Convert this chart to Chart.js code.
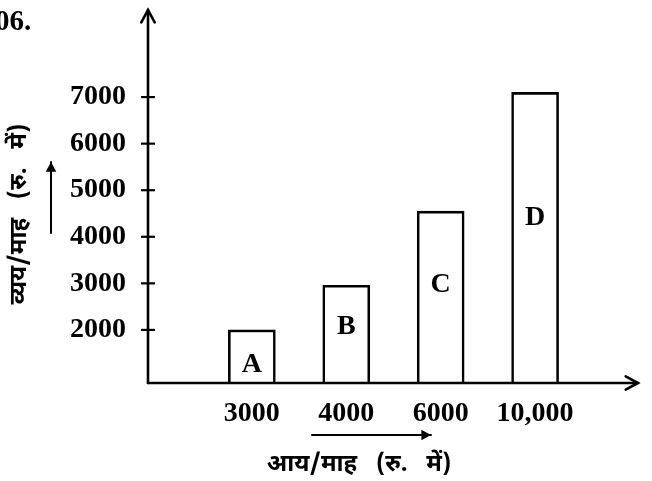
<!DOCTYPE html>
<html>
<head>
<meta charset="utf-8">
<script src="https://cdn.jsdelivr.net/npm/chart.js@4"></script>
<style>
  body { margin: 0; background: #fff; }
  #wrap { position: relative; width: 652px; height: 481px; overflow: hidden; }
  #qno { position: absolute; left: -5px; top: 4px; font: bold 29px "Liberation Serif", serif; color: #000; }
</style>
</head>
<body>
<div id="wrap">
  <canvas id="chart" width="652" height="481"></canvas>
  <div id="qno">06.</div>
</div>
<script>
// income per month (x categories) and expense per month (bar heights)
const incomeLabels = ['3000', '4000', '6000', '10,000'];
const expenses = [2000, 2960, 4550, 7100];
const barLetters = ['A', 'B', 'C', 'D'];
const yTickValues = [2000, 3000, 4000, 5000, 6000, 7000];
const xTitle = 'आय/माह   (रु.   में)';
const yTitle = 'व्यय/माह   (रु.   में)';

const serif = '"Liberation Serif", "Times New Roman", serif';
const hindi = '"Noto Sans Devanagari", "Lohit Devanagari", "FreeSerif", "Noto Serif Devanagari", sans-serif';

function arrowLine(ctx, x1, y1, x2, y2, head, lw, open) {
  const ang = Math.atan2(y2 - y1, x2 - x1);
  ctx.save();
  ctx.lineWidth = lw;
  ctx.strokeStyle = '#000';
  ctx.fillStyle = '#000';
  ctx.lineCap = 'round';
  ctx.beginPath();
  ctx.moveTo(x1, y1);
  ctx.lineTo(x2, y2);
  ctx.stroke();
  const a1 = ang + Math.PI - 0.5, a2 = ang + Math.PI + 0.5;
  ctx.beginPath();
  ctx.moveTo(x2 + head * Math.cos(a1), y2 + head * Math.sin(a1));
  ctx.lineTo(x2, y2);
  ctx.lineTo(x2 + head * Math.cos(a2), y2 + head * Math.sin(a2));
  if (open) ctx.stroke(); else { ctx.closePath(); ctx.fill(); }
  ctx.restore();
}

// axes with arrows, crossing ticks, bar letters and titles
const decor = {
  id: 'decor',
  afterDatasetsDraw(chart) {
    const ctx = chart.ctx;
    const a = chart.chartArea;
    const y = chart.scales.y;

    arrowLine(ctx, a.left, a.bottom, a.left, a.top, 14, 2.6, true);
    arrowLine(ctx, a.left, a.bottom, a.right, a.bottom, 14, 2.6, true);

    ctx.save();
    ctx.lineWidth = 2.2;
    ctx.strokeStyle = '#000';
    yTickValues.forEach(v => {
      const py = y.getPixelForValue(v);
      ctx.beginPath();
      ctx.moveTo(a.left - 7, py);
      ctx.lineTo(a.left + 7, py);
      ctx.stroke();
    });

    // letters inside the bars (measured from the visible bottom of each bar)
    ctx.font = 'bold 28px ' + serif;
    ctx.fillStyle = '#000';
    ctx.textAlign = 'center';
    ctx.textBaseline = 'middle';
    chart.getDatasetMeta(0).data.forEach((bar, i) => {
      const h = a.bottom - bar.y;
      const off = Math.min(0.57 * h, h - 35);
      ctx.fillText(barLetters[i], bar.x, a.bottom - off);
    });

    // axis titles
    ctx.font = 'bold 24px ' + hindi;
    ctx.fillText(xTitle, 359, 467);
    ctx.save();
    ctx.translate(22, 214);
    ctx.rotate(-Math.PI / 2);
    ctx.fillText(yTitle, 0, 0);
    ctx.restore();
    ctx.restore();

    arrowLine(ctx, 312, 435, 431, 435, 11, 2, false);
    arrowLine(ctx, 51, 233, 51, 162, 11, 2, false);
  }
};

new Chart(document.getElementById('chart'), {
  type: 'bar',
  data: {
    datasets: [{
      data: expenses.map((v, i) => ({ x: i, y: v })),
      backgroundColor: '#fff',
      borderColor: '#000',
      borderWidth: 2.6,
      barThickness: 47
    }]
  },
  options: {
    responsive: false,
    animation: false,
    layout: { padding: { top: 10, right: 14, left: 0, bottom: 0 } },
    plugins: { legend: { display: false }, tooltip: { enabled: false } },
    scales: {
      x: {
        type: 'linear',
        offset: false,
        min: -1.1,
        max: 4.09,
        grid: { display: false, drawTicks: false, offset: false },
        border: { display: false },
        afterBuildTicks: s => { s.ticks = incomeLabels.map((_, i) => ({ value: i })); },
        afterFit: s => { s.height = 98; s.paddingLeft = 0; s.paddingRight = 0; },
        ticks: {
          padding: 14,
          color: '#000',
          font: { family: serif, size: 28, weight: 'bold' },
          callback: v => incomeLabels[v]
        }
      },
      y: {
        min: 860,
        max: 8870,
        grid: { display: false, drawTicks: false },
        border: { display: false },
        afterBuildTicks: s => { s.ticks = yTickValues.map(v => ({ value: v })); },
        afterFit: s => { s.width = 148; s.paddingTop = 0; s.paddingBottom = 0; },
        ticks: {
          padding: 22,
          color: '#000',
          font: { family: serif, size: 28, weight: 'bold' },
          callback: v => String(v)
        }
      }
    }
  },
  plugins: [decor]
});
</script>
</body>
</html>
